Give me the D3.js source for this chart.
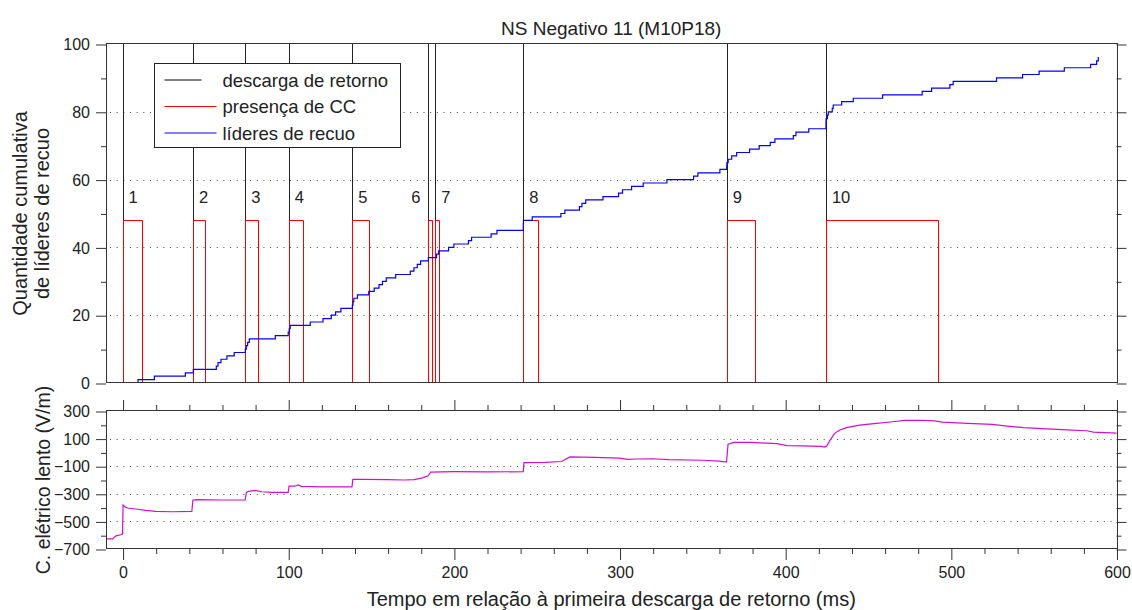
<!DOCTYPE html>
<html>
<head>
<meta charset="utf-8">
<script src="https://cdn.jsdelivr.net/npm/d3@7"></script>
<style>
  body { margin: 0; background: #fff; }
  svg text { font-family: "Liberation Sans", Arial, sans-serif; fill: #222; }
  .tick text { font-size: 16px; }
  .tick line { stroke: #333; }
</style>
</head>
<body>
<svg id="chart" width="1132" height="610"></svg>
<script>
// return strokes and continuing current (CC) intervals, in ms
var strokeTimes  = [0, 42.5, 74.1, 100.3, 138.7, 184.6, 188.8, 241.9, 364.7, 424.6];
var ccEndTimes   = [12.0, 49.9, 82.0, 108.9, 148.9, 186.6, 190.8, 250.6, 381.9, 492.2];
var strokeLabels = ['1', '2', '3', '4', '5', '6', '7', '8', '9', '10'];
var ccLevel = 48;

// cumulative recoil leaders
var leaderTimes = [
  9.3, 9.3, 19.2, 37.9, 42.7, 56.6, 57.6, 59.4, 63.0, 67.4,
  74.1, 74.7, 75.5, 76.5, 92.2, 100.0, 100.6, 101.2, 113.3, 121.0,
  126.0, 128.6, 131.8, 138.7, 139.1, 139.6, 141.8, 148.6, 151.9, 154.8,
  156.9, 159.2, 164.9, 173.7, 175.9, 177.9, 179.9, 184.6, 189.5, 190.8,
  196.8, 200.0, 208.8, 210.7, 222.5, 226.0, 241.9, 241.9, 242.0, 247.3,
  264.6, 267.0, 275.8, 277.3, 279.6, 290.0, 299.4, 301.8, 307.3, 314.3,
  328.6, 344.7, 347.3, 360.6, 364.7, 364.8, 365.6, 367.7, 370.7, 378.5,
  384.3, 391.0, 393.8, 404.9, 406.5, 414.2, 424.6, 424.6, 424.7, 425.5,
  426.0, 428.4, 429.0, 434.1, 441.1, 458.8, 482.7, 488.4, 499.4, 501.4,
  527.6, 543.3, 553.3, 568.5, 584.4, 588.0, 589.0, 589.4
];
var leaderCounts = [
  0, 1, 2, 3, 4, 5, 6, 7, 8, 9,
  10, 11, 12, 13, 14, 15, 16, 17, 18, 19,
  20, 21, 22, 23, 24, 25, 26, 27, 28, 29,
  30, 31, 32, 33, 34, 35, 36, 37, 38, 39,
  40, 41, 42, 43, 44, 45, 46, 47, 48, 49,
  50, 51, 52, 53, 54, 55, 56, 57, 58, 59,
  60, 61, 62, 63, 64, 65, 66, 67, 68, 69,
  70, 71, 72, 73, 74, 75, 76, 77, 78, 79,
  80, 81, 82, 83, 84, 85, 86, 87, 88, 89,
  90, 91, 92, 93, 94, 95, 96, 96
];

// slow electric field change (V/m)
var efTimes = [
  -10, -6, -4, -1, 0, 0.3, 1.5, 3, 8, 14,
  20, 30, 41.8, 42.5, 45, 60, 74, 74.8, 76, 80,
  84, 90, 100, 100.5, 104, 106, 108, 120, 138.5, 139,
  145, 160, 170, 176, 181, 184.5, 186, 200, 220, 241.9,
  242.3, 255, 265, 270, 285, 300, 305, 310, 320, 330,
  350, 360, 364.6, 365.5, 369, 380, 395, 401, 410, 422,
  423.5, 425, 427, 430, 433, 437, 445, 455, 465, 472,
  483, 490, 495, 510, 525, 534, 544, 558, 570, 582,
  586, 600
];
var efValues = [
  -627, -627, -605, -597, -590, -381, -395, -403, -410, -420,
  -427, -430, -428, -345, -342, -345, -344, -290, -282, -275,
  -285, -290, -290, -245, -245, -236, -246, -250, -250, -195,
  -195, -197, -200, -197, -185, -170, -143, -140, -141, -140,
  -74, -72, -66, -33, -36, -42, -50, -48, -46, -52,
  -57, -63, -70, 60, 73, 72, 63, 49, 47, 44,
  39, 45, 87, 140, 162, 179, 198, 210, 222, 232,
  233, 228, 220, 210, 203, 191, 180, 170, 163, 157,
  147, 140
];

var xMajor = [0, 100, 200, 300, 400, 500, 600];
var xMinor = d3.range(0, 601, 20).filter(function (v) { return v % 100 !== 0; });
var topMajor = [0, 20, 40, 60, 80, 100];
var topMinor = [10, 30, 50, 70, 90];
var topGrid = [20, 40, 60, 80];
var botMajor = [-700, -500, -300, -100, 100, 300];
var botMinor = [-600, -400, -200, 0, 200];
var botGrid = [-500, -300, -100, 100];

var legendItems = [
  { label: 'descarga de retorno', color: '#000', len: 37 },
  { label: 'presença de CC', color: '#ff0000', len: 52 },
  { label: 'líderes de recuo', color: '#0000ff', len: 52 }
];

var svg = d3.select('#chart');

var left = 106, right = 1116.5;
var x = d3.scaleLinear().domain([-10, 600]).range([left, right]);
var yTop = d3.scaleLinear().domain([0, 100]).range([383, 44]);
var yBot = d3.scaleLinear().domain([-700, 300]).range([549, 411]);

function crisp(v) { return Math.round(v) + 0.5; }

/////////////
// GRIDS
function drawGrid(values, scale) {
  svg.append('g')
    .selectAll('line')
    .data(values)
    .enter()
    .append('line')
    .attr('x1', left + 4).attr('x2', right)
    .attr('y1', function (d) { return crisp(scale(d)); })
    .attr('y2', function (d) { return crisp(scale(d)); })
    .attr('stroke', '#444')
    .attr('stroke-dasharray', '1,5.67');
}
drawGrid(topGrid, yTop);
drawGrid(botGrid, yBot);

/////////////
// AXES
function cleanAxis(g) {
  g.select('.domain').remove();
  g.attr('font-family', null).attr('font-size', null);
}

// top panel y ticks
svg.append('g').attr('transform', 'translate(' + left + ',0.5)')
  .call(d3.axisLeft(yTop).tickValues(topMajor).tickSize(10).tickPadding(6))
  .call(cleanAxis);
svg.append('g').attr('transform', 'translate(' + left + ',0.5)')
  .call(d3.axisLeft(yTop).tickValues(topMinor).tickSize(5).tickFormat(''))
  .call(cleanAxis);
svg.append('g').attr('transform', 'translate(' + right + ',0.5)')
  .call(d3.axisRight(yTop).tickValues(topMajor).tickSize(10).tickFormat(''))
  .call(cleanAxis);
svg.append('g').attr('transform', 'translate(' + right + ',0.5)')
  .call(d3.axisRight(yTop).tickValues(topMinor).tickSize(5).tickFormat(''))
  .call(cleanAxis);

// bottom panel y ticks
svg.append('g').attr('transform', 'translate(' + left + ',0.5)')
  .call(d3.axisLeft(yBot).tickValues(botMajor).tickSize(10).tickPadding(6))
  .call(cleanAxis);
svg.append('g').attr('transform', 'translate(' + left + ',0.5)')
  .call(d3.axisLeft(yBot).tickValues(botMinor).tickSize(5).tickFormat(''))
  .call(cleanAxis);
svg.append('g').attr('transform', 'translate(' + right + ',0.5)')
  .call(d3.axisRight(yBot).tickValues(botMajor).tickSize(10).tickFormat(''))
  .call(cleanAxis);
svg.append('g').attr('transform', 'translate(' + right + ',0.5)')
  .call(d3.axisRight(yBot).tickValues(botMinor).tickSize(5).tickFormat(''))
  .call(cleanAxis);

// bottom panel x ticks
svg.append('g').attr('transform', 'translate(0.5,549)')
  .call(d3.axisBottom(x).tickValues(xMajor).tickSize(11).tickPadding(7))
  .call(cleanAxis);
svg.append('g').attr('transform', 'translate(0.5,549)')
  .call(d3.axisBottom(x).tickValues(xMinor).tickSize(5).tickFormat(''))
  .call(cleanAxis);
svg.append('g').attr('transform', 'translate(0.5,411)')
  .call(d3.axisTop(x).tickValues(xMajor).tickSize(11).tickFormat(''))
  .call(cleanAxis);
svg.append('g').attr('transform', 'translate(0.5,411)')
  .call(d3.axisTop(x).tickValues(xMinor).tickSize(6).tickFormat(''))
  .call(cleanAxis);

/////////////
// RETURN STROKES + CC
var strokes = svg.append('g');
strokes.selectAll('line')
  .data(strokeTimes)
  .enter()
  .append('line')
  .attr('x1', function (d) { return crisp(x(d)); })
  .attr('x2', function (d) { return crisp(x(d)); })
  .attr('y1', yTop(100)).attr('y2', yTop(0))
  .attr('stroke', '#222');

var ccPath = function (d, i) {
  var x0 = crisp(x(d)), x1 = crisp(x(ccEndTimes[i])), y0 = yTop(0), y1 = crisp(yTop(ccLevel));
  return 'M' + x0 + ',' + y0 + 'V' + y1 + 'H' + x1 + 'V' + y0;
};
svg.append('g')
  .selectAll('path')
  .data(strokeTimes)
  .enter()
  .append('path')
  .attr('d', ccPath)
  .attr('fill', 'none')
  .attr('stroke', '#ff0000');

svg.append('g')
  .selectAll('text')
  .data(strokeTimes)
  .enter()
  .append('text')
  .attr('x', function (d, i) {
    // crowded stroke: put its number on the left side
    var next = strokeTimes[i + 1];
    return (next !== undefined && next - d < 10) ? x(d) - 8 : x(d) + 6;
  })
  .attr('y', 203)
  .attr('text-anchor', function (d, i) {
    var next = strokeTimes[i + 1];
    return (next !== undefined && next - d < 10) ? 'end' : 'start';
  })
  .style('font-size', '16.5px')
  .text(function (d, i) { return strokeLabels[i]; });

/////////////
// LEADERS (step line)
var leaderLine = d3.line()
  .x(function (d) { return x(d[0]); })
  .y(function (d) { return yTop(d[1]); })
  .curve(d3.curveStepAfter);

svg.append('path')
  .datum(leaderTimes.map(function (t, i) { return [t, leaderCounts[i]]; }))
  .attr('d', leaderLine)
  .attr('fill', 'none')
  .attr('stroke', '#0000ff')
  .attr('stroke-width', 1.2);

/////////////
// E-FIELD
var efLine = d3.line()
  .x(function (d) { return x(d[0]); })
  .y(function (d) { return yBot(d[1]); });

svg.append('path')
  .datum(efTimes.map(function (t, i) { return [t, efValues[i]]; }))
  .attr('d', efLine)
  .attr('fill', 'none')
  .attr('stroke', '#d010d0')
  .attr('stroke-width', 1.2);

/////////////
// FRAMES
[[yTop(100), yTop(0)], [yBot(300), yBot(-700)]].forEach(function (r) {
  svg.append('rect')
    .attr('x', left + 0.5).attr('y', crisp(r[0]) - 1)
    .attr('width', Math.round(right - left)).attr('height', Math.round(r[1] - r[0]))
    .attr('fill', 'none')
    .attr('stroke', '#333');
});

/////////////
// LEGEND
var legend = svg.append('g').attr('transform', 'translate(154.5,63.5)');
legend.append('rect')
  .attr('width', 246).attr('height', 84)
  .attr('fill', '#fff').attr('stroke', '#222');
var rows = legend.selectAll('g.row')
  .data(legendItems)
  .enter()
  .append('g')
  .attr('class', 'row')
  .attr('transform', function (d, i) { return 'translate(0,' + (16.5 + i * 26.5) + ')'; });
rows.append('line')
  .attr('x1', 10).attr('x2', function (d) { return 10 + d.len; })
  .attr('stroke', function (d) { return d.color; });
rows.append('text')
  .attr('x', 68).attr('y', 6.5)
  .style('font-size', '18.5px')
  .text(function (d) { return d.label; });

/////////////
// TITLES
svg.append('text')
  .attr('x', (left + right) / 2).attr('y', 35)
  .attr('text-anchor', 'middle')
  .style('font-size', '19px')
  .text('NS Negativo 11 (M10P18)');

svg.append('text')
  .attr('x', (left + right) / 2).attr('y', 606)
  .attr('text-anchor', 'middle')
  .style('font-size', '20px')
  .text('Tempo em relação à primeira descarga de retorno (ms)');

var yLab = svg.append('text')
  .attr('transform', 'translate(27,' + (yTop(50)) + ') rotate(-90)')
  .attr('text-anchor', 'middle')
  .style('font-size', '20px');
yLab.append('tspan').attr('x', 0).attr('dy', 0).text('Quantidade cumulativa');
yLab.append('tspan').attr('x', 0).attr('dy', 22).text('de líderes de recuo');

svg.append('text')
  .attr('transform', 'translate(50,' + yBot(-200) + ') rotate(-90)')
  .attr('text-anchor', 'middle')
  .style('font-size', '19.5px')
  .text('C. elétrico lento (V/m)');
</script>
</body>
</html>
